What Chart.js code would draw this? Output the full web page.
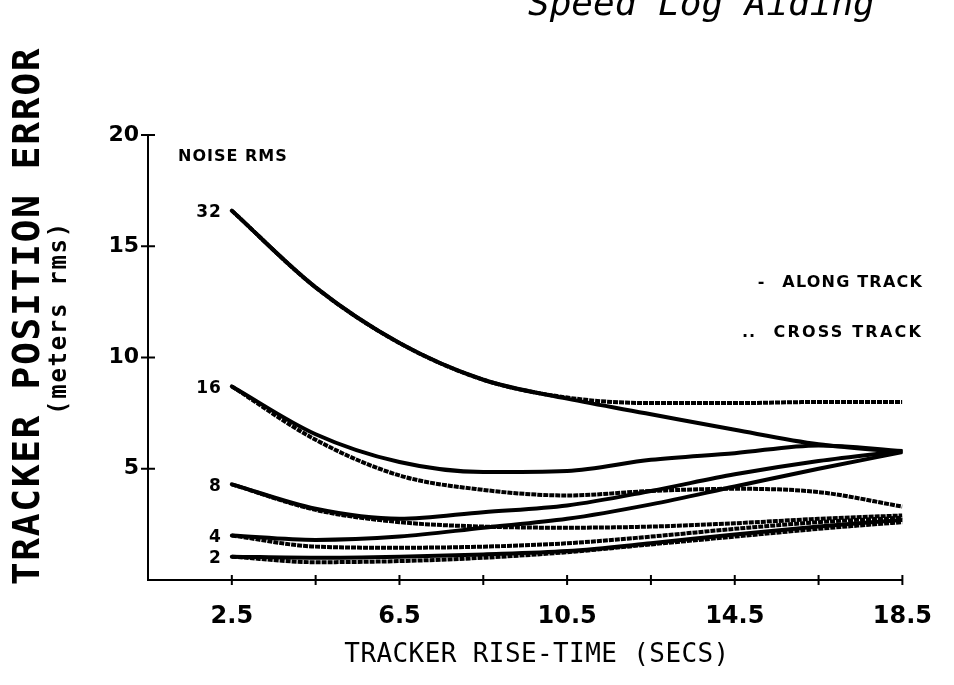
<!DOCTYPE html>
<html>
<head>
<meta charset="utf-8">
<script src="https://cdn.jsdelivr.net/npm/chart.js@4.4.1/dist/chart.umd.min.js"></script>
<style>
  html, body { margin: 0; padding: 0; background: #fff; }
  canvas { display: block; }
</style>
</head>
<body>
<canvas id="chart" width="954" height="685"></canvas>
<script>
// tracker rise-time (secs)
const riseTimes = [2.5, 4.5, 6.5, 8.5, 10.5, 12.5, 14.5, 16.5, 18.5];

// position error (meters rms), one pair per noise level
const along32 = [16.6, 13.15, 10.65, 9.0, 8.15, 7.45, 6.75, 6.1, 5.75];
const cross32 = [16.6, 13.15, 10.65, 9.0, 8.2, 7.95, 7.95, 8.0, 8.0];
const along16 = [8.7, 6.55, 5.3, 4.85, 4.9, 5.4, 5.7, 6.05, 5.8];
const cross16 = [8.7, 6.3, 4.7, 4.05, 3.8, 4.0, 4.1, 3.95, 3.3];
const along8 = [4.3, 3.2, 2.75, 3.05, 3.35, 4.0, 4.75, 5.35, 5.8];
const cross8 = [4.3, 3.15, 2.6, 2.4, 2.35, 2.4, 2.55, 2.75, 2.9];
const along4 = [2.0, 1.8, 1.95, 2.35, 2.75, 3.4, 4.2, 5.0, 5.75];
const cross4 = [2.0, 1.5, 1.45, 1.5, 1.65, 1.95, 2.3, 2.6, 2.8];
const along2 = [1.05, 1.0, 1.05, 1.15, 1.3, 1.65, 2.05, 2.4, 2.7];
const cross2 = [1.05, 0.8, 0.85, 1.0, 1.25, 1.6, 1.95, 2.3, 2.6];

const noiseLevels = ['32', '16', '8', '4', '2'];
const alongSeries = [along32, along16, along8, along4, along2];
const crossSeries = [cross32, cross16, cross8, cross4, cross2];

// axis ticks
const xLabelTicks = [2.5, 6.5, 10.5, 14.5, 18.5];
const xMarkTicks = [2.5, 4.5, 6.5, 8.5, 10.5, 12.5, 14.5, 16.5, 18.5];
const yTicks = [5, 10, 15, 20];

const points = values => values.map((v, i) => ({ x: riseTimes[i], y: v }));

const datasets = [];
noiseLevels.forEach((level, i) => {
  datasets.push({
    label: level + ' along track',
    data: points(alongSeries[i]),
    borderColor: '#000',
    borderWidth: 4,
    borderCapStyle: 'round',
    pointRadius: 0,
    cubicInterpolationMode: 'monotone'
  });
  datasets.push({
    label: level + ' cross track',
    data: points(crossSeries[i]),
    borderColor: '#000',
    borderWidth: 4,
    borderDash: [5, 1],
    pointRadius: 0,
    cubicInterpolationMode: 'monotone'
  });
});

function drawText(ctx, str, px, py, font, align, spacing) {
  ctx.font = font;
  ctx.letterSpacing = (spacing || 0) + 'px';
  ctx.textAlign = align;
  ctx.textBaseline = 'middle';
  ctx.fillText(str, px, py);
}

const overlay = {
  id: 'overlay',
  afterDraw(chart) {
    const { ctx, chartArea, scales: { x, y } } = chart;
    ctx.save();
    ctx.fillStyle = '#000';
    ctx.strokeStyle = '#000';
    ctx.lineWidth = 2;

    // tick marks crossing the axes
    ctx.beginPath();
    xMarkTicks.forEach(v => {
      const px = x.getPixelForValue(v);
      ctx.moveTo(px, chartArea.bottom - 5);
      ctx.lineTo(px, chartArea.bottom + 5);
    });
    yTicks.forEach(v => {
      const py = y.getPixelForValue(v);
      ctx.moveTo(chartArea.left - 7, py);
      ctx.lineTo(chartArea.left + 7, py);
    });
    ctx.stroke();

    // noise level labels at the start of each curve pair
    noiseLevels.forEach((level, i) => {
      const px = x.getPixelForValue(riseTimes[0]) - 10;
      const py = y.getPixelForValue(alongSeries[i][0]) + 2;
      drawText(ctx, level, px, py, 'bold 17px "DejaVu Sans"', 'right', 1);
    });
    drawText(ctx, 'NOISE RMS', 178, 157, 'bold 16px "DejaVu Sans"', 'left', 1);

    // legend
    drawText(ctx, '-', 761, 283, 'bold 16px "DejaVu Sans"', 'center', 0);
    drawText(ctx, 'ALONG TRACK', 923, 283, 'bold 16px "DejaVu Sans"', 'right', 1.2);
    drawText(ctx, '..', 749, 333, 'bold 16px "DejaVu Sans"', 'center', 1);
    drawText(ctx, 'CROSS TRACK', 923, 333, 'bold 16px "DejaVu Sans"', 'right', 2.2);

    // axis titles
    drawText(ctx, 'TRACKER RISE-TIME (SECS)', 537, 655, '26px "DejaVu Sans Mono"', 'center', 0.4);
    ctx.save();
    ctx.translate(29, 316);
    ctx.rotate(-Math.PI / 2);
    drawText(ctx, 'TRACKER POSITION ERROR', 0, 0, 'bold 38px "DejaVu Sans Mono"', 'center', 1.6);
    ctx.restore();
    ctx.save();
    ctx.translate(60, 318);
    ctx.rotate(-Math.PI / 2);
    drawText(ctx, '(meters rms)', 0, 0, 'bold 24px "DejaVu Sans Mono"', 'center', 1.7);
    ctx.restore();

    // title, cut off at the top of the page
    ctx.font = 'oblique 36px "DejaVu Sans Mono"';
    ctx.letterSpacing = '0px';
    ctx.textAlign = 'left';
    ctx.textBaseline = 'alphabetic';
    ctx.fillText('Speed Log Aiding', 528, 15);

    ctx.letterSpacing = '0px';
    ctx.restore();
  }
};

new Chart(document.getElementById('chart'), {
  type: 'line',
  data: { datasets },
  options: {
    responsive: false,
    animation: false,
    events: [],
    layout: { padding: { top: 135, right: 51, left: 0, bottom: 0 } },
    plugins: { legend: { display: false }, tooltip: { enabled: false } },
    scales: {
      x: {
        type: 'linear',
        min: 0.5,
        max: 18.5,
        afterBuildTicks: scale => { scale.ticks = xLabelTicks.map(v => ({ value: v })); },
        afterFit: scale => { scale.height = 105; },
        grid: { display: false, drawTicks: false },
        border: { display: true, color: '#000', width: 2 },
        ticks: {
          autoSkip: false,
          maxRotation: 0,
          padding: 22,
          color: '#000',
          font: { family: 'DejaVu Sans', size: 24, weight: 'bold' },
          callback: v => v.toFixed(1)
        }
      },
      y: {
        min: 0,
        max: 20,
        afterBuildTicks: scale => { scale.ticks = yTicks.map(v => ({ value: v })); },
        afterFit: scale => { scale.width = 148; },
        grid: { display: false, drawTicks: false },
        border: { display: true, color: '#000', width: 2 },
        ticks: {
          padding: 9,
          color: '#000',
          font: { family: 'DejaVu Sans', size: 22, weight: 'bold' }
        }
      }
    }
  },
  plugins: [overlay]
});
</script>
</body>
</html>
